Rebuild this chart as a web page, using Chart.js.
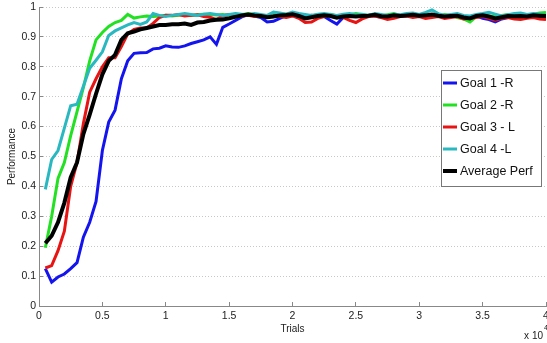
<!DOCTYPE html>
<html>
<head>
<meta charset="utf-8">
<script src="https://cdn.jsdelivr.net/npm/chart.js@4.4.1/dist/chart.umd.min.js"></script>
<style>
    html, body { margin: 0; padding: 0; background: #fff; }
    #wrap { width: 547px; height: 343px; position: relative; }
</style>
</head>
<body>
<div id="wrap"><canvas id="perfChart"></canvas></div>
<script>
// Trials (x 10^4), one sample every 500 trials
const trials = [
    0.05, 0.10, 0.15, 0.20, 0.25, 0.30, 0.35, 0.40, 0.45, 0.50,
    0.55, 0.60, 0.65, 0.70, 0.75, 0.80, 0.85, 0.90, 0.95, 1.00,
    1.05, 1.10, 1.15, 1.20, 1.25, 1.30, 1.35, 1.40, 1.45, 1.50,
    1.55, 1.60, 1.65, 1.70, 1.75, 1.80, 1.85, 1.90, 1.95, 2.00,
    2.05, 2.10, 2.15, 2.20, 2.25, 2.30, 2.35, 2.40, 2.45, 2.50,
    2.55, 2.60, 2.65, 2.70, 2.75, 2.80, 2.85, 2.90, 2.95, 3.00,
    3.05, 3.10, 3.15, 3.20, 3.25, 3.30, 3.35, 3.40, 3.45, 3.50,
    3.55, 3.60, 3.65, 3.70, 3.75, 3.80, 3.85, 3.90, 3.95, 4.00
];

const goal1 = [
    0.125, 0.080, 0.097, 0.107, 0.125, 0.145, 0.230, 0.280, 0.350, 0.520,
    0.615, 0.655, 0.760, 0.820, 0.845, 0.847, 0.848, 0.860, 0.862, 0.870,
    0.866, 0.865, 0.870, 0.878, 0.884, 0.890, 0.900, 0.875, 0.932, 0.943,
    0.955, 0.967, 0.975, 0.970, 0.965, 0.950, 0.952, 0.962, 0.972, 0.975,
    0.970, 0.968, 0.972, 0.970, 0.968, 0.955, 0.943, 0.965, 0.972, 0.970,
    0.968, 0.972, 0.970, 0.966, 0.970, 0.972, 0.968, 0.970, 0.975, 0.970,
    0.968, 0.972, 0.970, 0.965, 0.970, 0.972, 0.968, 0.965, 0.970, 0.962,
    0.958, 0.950, 0.960, 0.965, 0.968, 0.970, 0.966, 0.970, 0.968, 0.970
];

const goal2 = [
    0.195, 0.300, 0.427, 0.480, 0.570, 0.650, 0.730, 0.820, 0.890, 0.915,
    0.935, 0.948, 0.955, 0.975, 0.963, 0.967, 0.970, 0.968, 0.970, 0.972,
    0.970, 0.972, 0.975, 0.972, 0.974, 0.976, 0.975, 0.973, 0.975, 0.972,
    0.976, 0.974, 0.978, 0.975, 0.972, 0.968, 0.975, 0.978, 0.976, 0.974,
    0.965, 0.962, 0.970, 0.975, 0.972, 0.976, 0.970, 0.968, 0.974, 0.978,
    0.975, 0.972, 0.976, 0.970, 0.974, 0.978, 0.972, 0.970, 0.975, 0.972,
    0.976, 0.974, 0.970, 0.975, 0.972, 0.965, 0.960, 0.950, 0.968, 0.972,
    0.970, 0.968, 0.972, 0.975, 0.970, 0.974, 0.970, 0.976, 0.980, 0.982
];

const goal3 = [
    0.127, 0.135, 0.185, 0.250, 0.400, 0.480, 0.610, 0.715, 0.760, 0.800,
    0.830, 0.830, 0.868, 0.910, 0.925, 0.930, 0.930, 0.945, 0.965, 0.972,
    0.972, 0.975, 0.970, 0.972, 0.974, 0.968, 0.966, 0.958, 0.970, 0.975,
    0.973, 0.970, 0.972, 0.968, 0.970, 0.966, 0.970, 0.968, 0.965, 0.970,
    0.962, 0.948, 0.950, 0.962, 0.968, 0.972, 0.970, 0.965, 0.955, 0.948,
    0.960, 0.968, 0.970, 0.965, 0.958, 0.962, 0.968, 0.970, 0.965, 0.968,
    0.962, 0.965, 0.968, 0.962, 0.965, 0.968, 0.960, 0.962, 0.965, 0.968,
    0.962, 0.956, 0.962, 0.965, 0.960, 0.958, 0.962, 0.965, 0.960, 0.958
];

const goal4 = [
    0.390, 0.490, 0.520, 0.595, 0.670, 0.675, 0.735, 0.795, 0.822, 0.850,
    0.905, 0.920, 0.930, 0.940, 0.948, 0.942, 0.950, 0.978, 0.972, 0.968,
    0.972, 0.975, 0.978, 0.975, 0.972, 0.976, 0.978, 0.975, 0.972, 0.975,
    0.978, 0.976, 0.974, 0.978, 0.975, 0.972, 0.983, 0.980, 0.976, 0.983,
    0.978, 0.975, 0.972, 0.976, 0.978, 0.975, 0.972, 0.976, 0.978, 0.974,
    0.976, 0.972, 0.978, 0.975, 0.972, 0.976, 0.974, 0.978, 0.980, 0.975,
    0.982, 0.990, 0.978, 0.972, 0.975, 0.978, 0.972, 0.970, 0.975, 0.978,
    0.982, 0.976, 0.970, 0.974, 0.978, 0.980, 0.975, 0.978, 0.976, 0.972
];

const averagePerf = [
    0.210, 0.235, 0.280, 0.345, 0.430, 0.480, 0.575, 0.640, 0.710, 0.775,
    0.820, 0.840, 0.890, 0.912, 0.918, 0.925, 0.930, 0.935, 0.940, 0.940,
    0.942, 0.942, 0.945, 0.940, 0.948, 0.950, 0.955, 0.957, 0.958, 0.962,
    0.967, 0.972, 0.975, 0.972, 0.970, 0.966, 0.968, 0.972, 0.973, 0.976,
    0.970, 0.962, 0.966, 0.970, 0.972, 0.970, 0.964, 0.968, 0.970, 0.968,
    0.970, 0.971, 0.974, 0.969, 0.968, 0.972, 0.970, 0.972, 0.974, 0.971,
    0.972, 0.975, 0.971, 0.968, 0.970, 0.971, 0.965, 0.962, 0.970, 0.972,
    0.968, 0.962, 0.966, 0.970, 0.969, 0.970, 0.968, 0.972, 0.971, 0.970
];

const seriesLabels = ['Goal 1 -R', 'Goal 2 -R', 'Goal 3 - L', 'Goal 4 -L', 'Average Perf'];
const seriesColors = ['#1414ee', '#22e022', '#e81414', '#2ab8c0', '#000000'];
const seriesWidths = [3, 3, 3, 3, 4];

function toPoints(values) {
    return trials.map((t, i) => ({ x: t, y: values[i] }));
}

// Boxed legend drawn inside the plot, MATLAB style
const boxLegend = {
    id: 'boxLegend',
    afterDraw(chart) {
        const ctx = chart.ctx;
        const area = chart.chartArea;
        const left = area.right - 105;
        const top = area.top + 63;
        ctx.save();
        ctx.fillStyle = '#fff';
        ctx.fillRect(left, top, 100, 116);
        ctx.strokeStyle = '#777';
        ctx.lineWidth = 1;
        ctx.strokeRect(left + 0.5, top + 0.5, 100, 116);
        ctx.font = '12.5px "Liberation Sans", Arial, sans-serif';
        ctx.textBaseline = 'middle';
        ctx.textAlign = 'left';
        seriesLabels.forEach((label, i) => {
            const y = top + 13 + i * 22;
            ctx.strokeStyle = seriesColors[i];
            ctx.lineWidth = seriesWidths[i];
            ctx.beginPath();
            ctx.moveTo(left + 2, y);
            ctx.lineTo(left + 16, y);
            ctx.stroke();
            ctx.fillStyle = '#111';
            ctx.fillText(label, left + 19, y + 1);
        });
        ctx.restore();
    }
};

// "x 10^4" exponent under the right end of the x axis
const axisExponent = {
    id: 'axisExponent',
    afterDraw(chart) {
        const ctx = chart.ctx;
        ctx.save();
        ctx.fillStyle = '#222';
        ctx.textBaseline = 'middle';
        ctx.textAlign = 'right';
        ctx.font = '10px "Liberation Sans", Arial, sans-serif';
        ctx.fillText('x 10', 543, 336);
        ctx.textAlign = 'left';
        ctx.font = '7px "Liberation Sans", Arial, sans-serif';
        ctx.fillText('4', 544, 328);
        ctx.restore();
    }
};

Chart.defaults.font.family = '"Liberation Sans", Arial, sans-serif';
Chart.defaults.font.size = 10;
Chart.defaults.color = '#222';

new Chart(document.getElementById('perfChart'), {
    type: 'line',
    data: {
        datasets: seriesLabels.map((label, i) => ({
            label: label,
            data: toPoints([goal1, goal2, goal3, goal4, averagePerf][i]),
            borderColor: seriesColors[i],
            backgroundColor: seriesColors[i],
            borderWidth: seriesWidths[i],
            pointRadius: 0,
            tension: 0,
            order: 5 - i
        }))
    },
    options: {
        responsive: true,
        maintainAspectRatio: false,
        animation: false,
        layout: { padding: { left: 0, top: 7, right: 1, bottom: 0 } },
        plugins: {
            legend: { display: false },
            tooltip: { enabled: false }
        },
        scales: {
            x: {
                type: 'linear',
                min: 0,
                max: 4,
                ticks: {
                    stepSize: 0.5,
                    padding: 8,
                    maxRotation: 0,
                    font: { size: 10.5 },
                    callback: v => String(+v.toFixed(2))
                },
                grid: {
                    drawOnChartArea: false,
                    drawTicks: true,
                    tickLength: -4,
                    tickColor: '#888'
                },
                border: { color: '#888', width: 1 },
                title: {
                    display: true,
                    text: 'Trials',
                    padding: { top: 0, bottom: 8 }
                },
                afterFit: s => {
                    s.height = 37;
                    s.paddingLeft = 0;
                    s.paddingRight = 0;
                }
            },
            y: {
                min: 0,
                max: 1,
                ticks: {
                    stepSize: 0.1,
                    padding: 7,
                    font: { size: 10.5 },
                    callback: v => String(+v.toFixed(2))
                },
                grid: {
                    color: '#c8c8c8',
                    drawTicks: true,
                    tickLength: -4,
                    tickColor: '#888'
                },
                border: { color: '#888', width: 1, dash: [1, 2] },
                title: {
                    display: true,
                    text: 'Performance',
                    padding: { top: 6, bottom: 0 }
                },
                afterFit: s => {
                    s.width = 39;
                    s.paddingTop = 0;
                    s.paddingBottom = 0;
                }
            }
        }
    },
    plugins: [boxLegend, axisExponent]
});
</script>
</body>
</html>
